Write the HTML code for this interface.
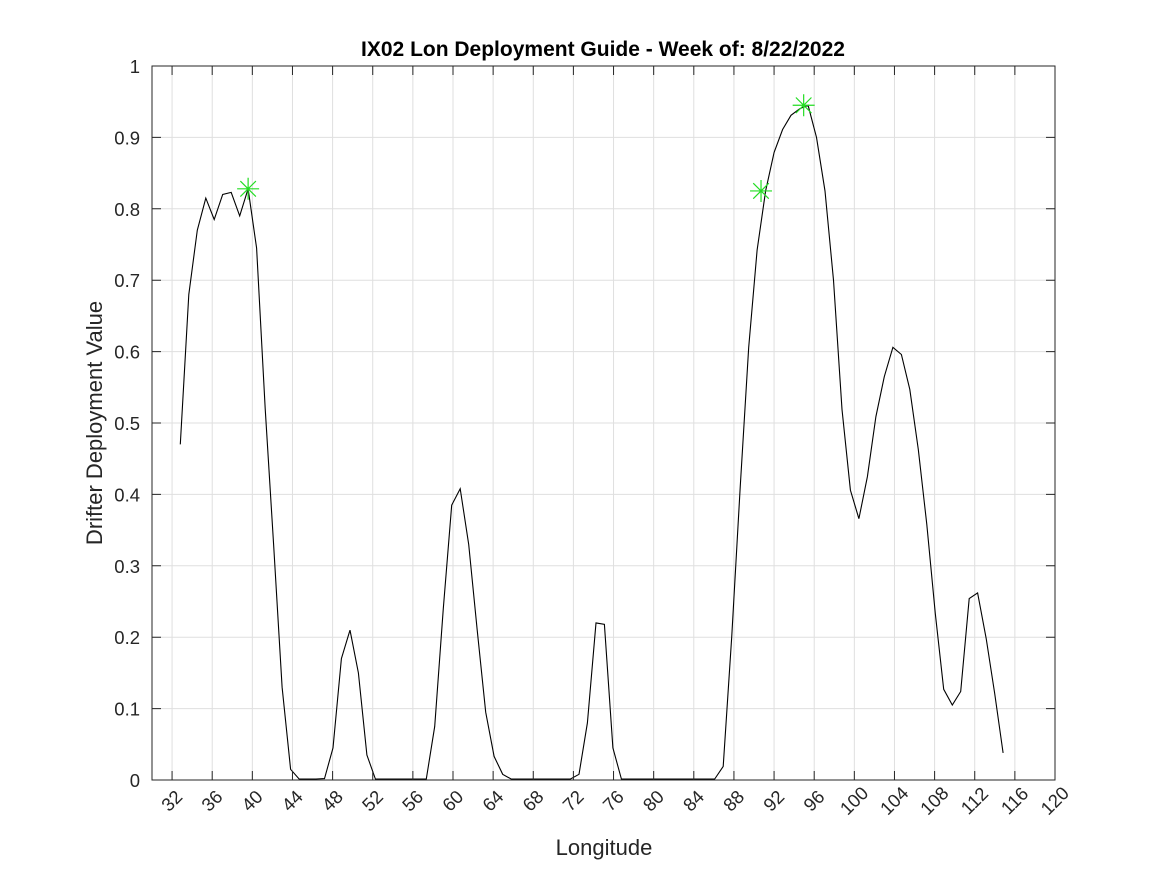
<!DOCTYPE html>
<html><head><meta charset="utf-8"><style>
html,body{margin:0;padding:0;background:#fff;}
svg{display:block;font-family:"Liberation Sans",Arial,sans-serif;}
</style></head><body>
<svg id="chart" width="1167" height="875" viewBox="0 0 1167 875" xmlns="http://www.w3.org/2000/svg">
<rect width="1167" height="875" fill="#fff"/>
<g id="grid"></g>
<g id="series"></g>
<rect x="152" y="66" width="903" height="714" fill="none" stroke="#262626" stroke-width="1"/>
<g id="ticks"></g>
<text x="603" y="56" text-anchor="middle" font-size="21" font-weight="bold" fill="#000">IX02 Lon Deployment Guide - Week of: 8/22/2022</text>
<text x="604" y="855" text-anchor="middle" font-size="22" fill="#262626">Longitude</text>
<text transform="translate(102,423) rotate(-90)" text-anchor="middle" font-size="22" fill="#262626">Drifter Deployment Value</text>
</svg>
<script>
const lon = [32.82,33.67,34.51,35.36,36.20,37.05,37.89,38.74,39.58,40.43,41.28,42.12,42.97,43.81,44.66,45.50,46.35,47.19,48.04,48.88,49.73,50.57,51.42,52.27,53.11,53.96,54.80,55.65,56.49,57.34,58.18,59.03,59.87,60.72,61.56,62.41,63.26,64.10,64.95,65.79,66.64,67.48,68.33,69.17,70.02,70.87,71.71,72.56,73.40,74.25,75.09,75.94,76.78,77.63,78.48,79.32,80.17,81.01,81.86,82.70,83.55,84.39,85.24,86.08,86.93,87.78,88.62,89.47,90.31,91.16,92.00,92.85,93.69,94.54,95.39,96.23,97.08,97.92,98.77,99.61,100.46,101.30,102.15,102.99,103.84,104.69,105.53,106.38,107.22,108.07,108.91,109.76,110.60,111.45,112.29,113.14,113.99,114.83];
const values = [0.47,0.68,0.77,0.815,0.785,0.82,0.823,0.79,0.828,0.745,0.52,0.33,0.13,0.015,0,0,0,0.002,0.045,0.17,0.21,0.15,0.035,0,0,0,0,0,0,0,0.075,0.24,0.385,0.408,0.33,0.21,0.095,0.033,0.008,0,0,0,0,0,0,0,0,0.008,0.08,0.22,0.218,0.045,0,0,0,0,0,0,0,0,0,0,0,0,0.019,0.2,0.41,0.606,0.742,0.825,0.879,0.911,0.931,0.94,0.945,0.9,0.825,0.70,0.519,0.406,0.366,0.425,0.509,0.565,0.606,0.596,0.547,0.463,0.358,0.233,0.127,0.105,0.124,0.254,0.262,0.198,0.121,0.038];
const markerLon = [39.58,90.7,94.95];
const markerVal = [0.828,0.825,0.945];
const xTicks = [32,36,40,44,48,52,56,60,64,68,72,76,80,84,88,92,96,100,104,108,112,116,120];
const yTicks = [0,0.1,0.2,0.3,0.4,0.5,0.6,0.7,0.8,0.9,1];
const yTickLabels = ["0","0.1","0.2","0.3","0.4","0.5","0.6","0.7","0.8","0.9","1"];

const NS="http://www.w3.org/2000/svg";
const X0=152,X1=1055,Y0=780,Y1=66,XMIN=30,XMAX=120;
const xs=v=>X0+(v-XMIN)/(XMAX-XMIN)*(X1-X0);
const ys=v=>Y0-v*(Y0-Y1);
function mk(tag,attrs,parent){const e=document.createElementNS(NS,tag);for(const k in attrs)e.setAttribute(k,attrs[k]);parent.appendChild(e);return e;}
const grid=document.getElementById('grid'),ticks=document.getElementById('ticks'),series=document.getElementById('series');
xTicks.forEach(t=>{
  const x=xs(t);
  const g=mk('line',{x1:x,x2:x,y1:Y1,y2:Y0,stroke:'#dfdfdf','stroke-width':1},grid);
  
  
  const tk=mk('path',{d:`M${x},${Y0}v-9M${x},${Y1}v9`,stroke:'#262626','stroke-width':1},ticks);
  
  
  const lb=mk('text',{x:x,y:807,'text-anchor':'middle','font-size':18.5,fill:'#262626',transform:`rotate(-45 ${x} 801)`},ticks);
  
  
  lb.textContent=t;
});
yTicks.forEach((t,i)=>{
  const y=ys(t);
  const g=mk('line',{x1:X0,x2:X1,y1:y,y2:y,stroke:'#dfdfdf','stroke-width':1},grid);
  
  
  const tk=mk('path',{d:`M${X0},${y}h9M${X1},${y}h-9`,stroke:'#262626','stroke-width':1},ticks);
  
  
  const lb=mk('text',{x:140,y:y+7,'text-anchor':'end','font-size':18.5,fill:'#262626'},ticks);
  
  
  lb.textContent=yTickLabels[i];
});
const pts=lon.map((l,i)=>xs(l).toFixed(1)+','+Math.min(ys(values[i]),779).toFixed(1)).join(' ');
const line=mk('polyline',{points:pts,fill:'none',stroke:'#000','stroke-width':1.1},series);


markerLon.forEach((l,i)=>{
  const cx=xs(l),cy=ys(markerVal[i]),r=11;
  let d='';
  for(let a=0;a<4;a++){const ang=a*Math.PI/4;const dx=r*Math.cos(ang),dy=r*Math.sin(ang);d+=`M${cx-dx},${cy-dy}L${cx+dx},${cy+dy}`;}
  const m=mk('path',{d:d,stroke:'#22dd22','stroke-width':1.2,fill:'none'},series);
  
  
});
</script>
</body></html>
